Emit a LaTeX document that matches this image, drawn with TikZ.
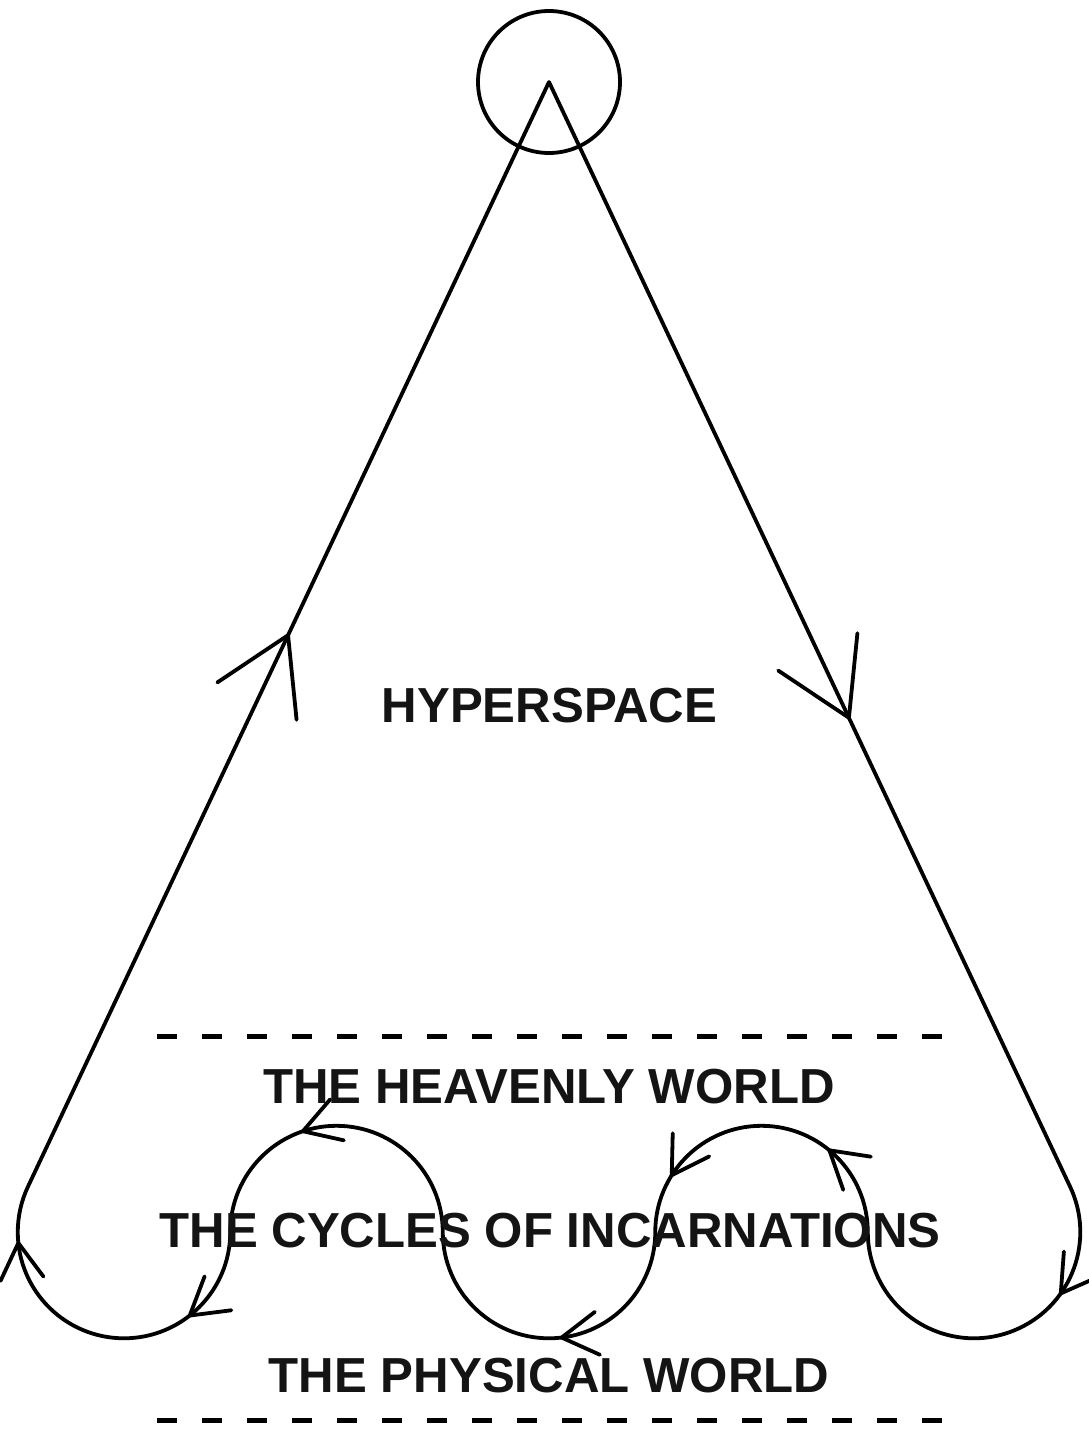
\documentclass[tikz,border=0pt]{standalone}
\usepackage{fontspec}
\setmainfont{Liberation Sans}
\usetikzlibrary{decorations.markings}
\begin{document}
\begin{tikzpicture}[x=1pt,y=1pt,
  line/.style={line width=3.8pt, line join=round, line cap=round},
  dashline/.style={line width=5pt, dash pattern=on 20pt off 25pt},
  lbl/.style={font=\fontsize{49.2}{57}\selectfont\bfseries, anchor=base, inner sep=0pt, text=black!92},
  bigv/.style={decoration={markings, mark=at position #1 with {\draw[line] (-72.9,43.8) -- (0,0) -- (-72.9,-43.8);}}},
  smallv/.style={decoration={markings, mark=at position #1 with {\draw[line] (-36,21.6) -- (0,0) -- (-36,-21.6);}}}
]
\useasboundingbox (0,0) rectangle (1089,-1429);
% top circle and apex
\node[circle, draw, line width=3.8pt, minimum size=142pt, inner sep=0pt] (topc) at (549,-82) {};
\coordinate (apex) at (549,-82);
\coordinate (rt) at (1070.1,-1186.7);
% main path
\draw[line,
  postaction={bigv=703pt, decorate},
  postaction={smallv=1333.6pt, decorate},
  postaction={smallv=1695.3pt, decorate},
  postaction={smallv=1875.9pt, decorate},
  postaction={smallv=2090.1pt, decorate},
  postaction={smallv=2470.8pt, decorate},
  postaction={smallv=2699.6pt, decorate},
  postaction={smallv=2926.4pt, decorate},
  postaction={bigv=3594pt, decorate}]
  (apex) -- (rt)
  arc[start angle=25.26, end angle=-180, radius=106.25]
  arc[start angle=0, end angle=180, radius=106.25]
  arc[start angle=0, end angle=-180, radius=106.25]
  arc[start angle=0, end angle=180, radius=106.25]
  arc[start angle=0, end angle=-205.26, radius=106.25]
  -- (apex);
% dashed boundaries
\coordinate (d1a) at (157,-1036);
\coordinate (d1b) at (942,-1036);
\coordinate (d2a) at (157,-1420);
\coordinate (d2b) at (942,-1420);
\draw[dashline] (d1a) -- (d1b);
\draw[dashline] (d2a) -- (d2b);
% labels
\node[lbl] (hyper) at (549.5,-722) {HYPERSPACE};
\node[lbl] (heaven) at (549,-1103) {THE HEAVENLY WORLD};
\node[lbl] (cycles) at (550,-1247) {THE CYCLES OF INCARNATIONS};
\node[lbl] (phys) at (549,-1392) {THE PHYSICAL WORLD};
\end{tikzpicture}
\end{document}
